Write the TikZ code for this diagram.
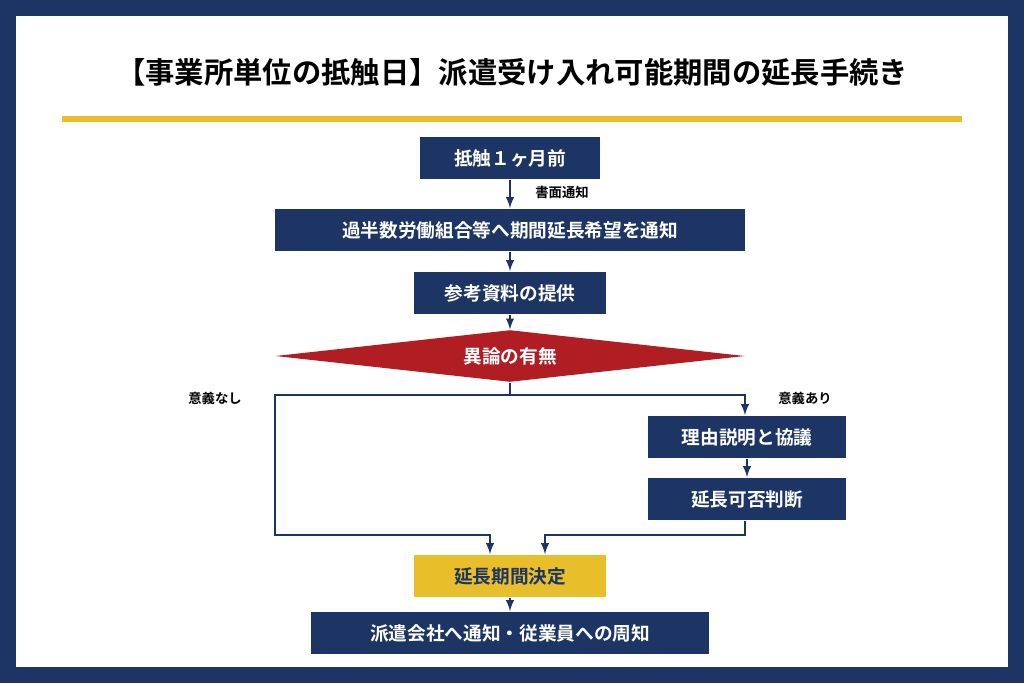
\documentclass[tikz,border=0pt]{standalone}
\usepackage{fontspec}
\setmainfont{Noto Sans CJK JP}[BoldFont={* Bold}]
\usetikzlibrary{positioning,shapes.geometric}
\definecolor{navy}{HTML}{1C3564}
\definecolor{gold}{HTML}{E8BE2A}
\definecolor{crimson}{HTML}{B01E24}
\begin{document}
\begin{tikzpicture}[x=0.75pt, y=-0.75pt, >=latex, thick]
\tikzset{
    stepbox/.style= {fill=navy, text=white, font=\bfseries\fontsize{14}{16}\selectfont, minimum height=32pt, inner xsep=8pt},
    goldbox/.style= {stepbox, fill=gold, text=navy},
    sidelabel/.style= {font=\bfseries\fontsize{10}{12}\selectfont, text=black},
    flow/.style= {draw=navy, line width=1.8pt, ->},
}
\fill[navy] (0,0) rectangle (1024,683);
\fill[white] (16,16) rectangle (1008,667);
\node[font=\bfseries\fontsize{22}{26}\selectfont] (title) at (512,72) {【事業所単位の抵触日】派遣受け入れ可能期間の延長手続き};
\fill[gold] (62,116) rectangle (962,122);

\node[stepbox, minimum width=135pt] (s1) at (510,158) {抵触１ヶ月前};
\node[stepbox, minimum width=352pt] (s2) at (510,230) {過半数労働組合等へ期間延長希望を通知};
\node[stepbox, minimum width=144pt] (s3) at (510,293) {参考資料の提供};
\node[diamond, aspect=9, fill=crimson, text=white, font=\bfseries\fontsize{14}{16}\selectfont, minimum width=352pt, minimum height=39pt, inner sep=0pt] (d) at (510,356) {異論の有無};
\node[stepbox, minimum width=148pt] (r1) at (747,437) {理由説明と協議};
\node[stepbox, minimum width=148pt] (r2) at (747,499) {延長可否判断};
\node[goldbox, minimum width=144pt] (dec) at (510,576) {延長期間決定};
\node[stepbox, minimum width=298pt] (fin) at (510,633) {派遣会社へ通知・従業員への周知};

\node[sidelabel] (lw) at (562,192) {書面通知};
\node[sidelabel] (ln) at (215,398) {意義なし};
\node[sidelabel] (ly) at (805,398) {意義あり};

\coordinate (fork) at (510,395);
\coordinate (jl) at (490,535);
\coordinate (jr) at (545,535);
\draw[flow] (s1) -- (s2);
\draw[flow] (s2) -- (s3);
\draw[flow] (s3) -- (d);
\draw[navy, line width=1.8pt] (d.south) -- (fork);
\draw[flow] (fork) -- (275,395) -- (275,535) -- (jl) -- (jl |- dec.north);
\draw[flow] (fork) -- (745,395) -- (745,395 |- r1.north);
\draw[flow] (r1) -- (r2);
\draw[flow] (r2.south -| 745,0) -- (745,535) -- (jr) -- (jr |- dec.north);
\draw[flow] (dec) -- (fin);
\end{tikzpicture}
\end{document}
